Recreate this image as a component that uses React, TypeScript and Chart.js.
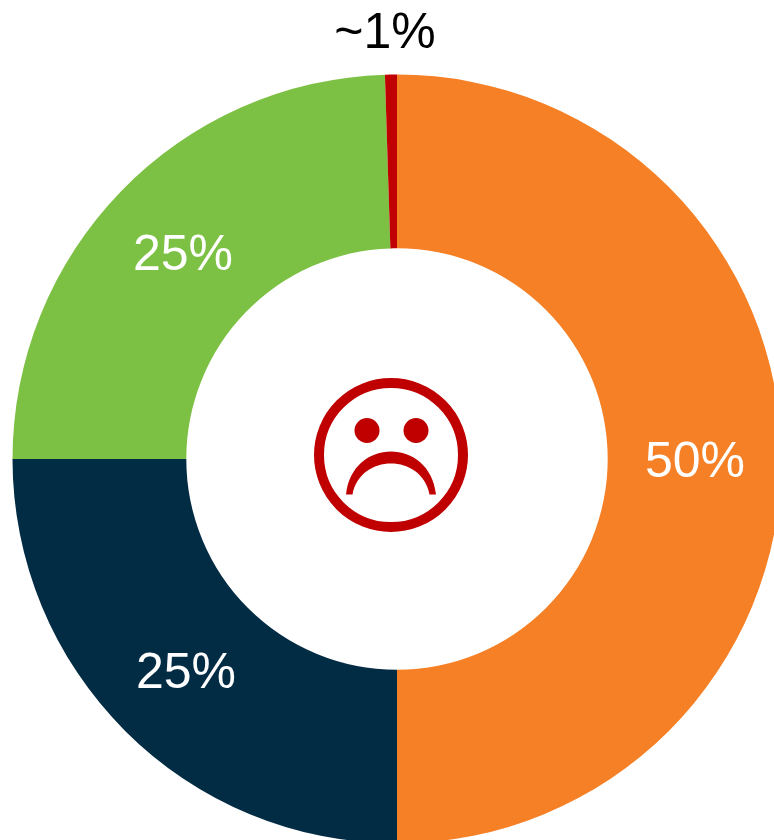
import React, { useEffect, useRef } from "react";
import { Chart, registerables } from "chart.js";

Chart.register(...registerables);

const categories = ["Orange", "Navy", "Green", "Red"];
const seriesValues = [50, 25, 24.5, 0.5];
const pointLabels = ["50%", "25%", "25%", "~1%"];
const sliceColors = ["#F68026", "#022B44", "#7DC144", "#C00000"];
const labelColors = ["#ffffff", "#ffffff", "#ffffff", "#000000"];
const labelAnchors: [number, number][] = [[695, 477], [186, 688], [183, 270], [385, 48]];

const overlay = {
  id: "overlay",
  afterDatasetsDraw(chart: any) {
    const { ctx } = chart;
    ctx.save();
    ctx.font = '50px "Liberation Sans"';
    ctx.textAlign = "center";
    ctx.textBaseline = "alphabetic";
    pointLabels.forEach((t, i) => {
      ctx.fillStyle = labelColors[i];
      ctx.fillText(t, labelAnchors[i][0], labelAnchors[i][1]);
    });
    ctx.strokeStyle = "#C00000";
    ctx.fillStyle = "#C00000";
    ctx.lineWidth = 10;
    ctx.beginPath();
    ctx.arc(391, 455, 72, 0, Math.PI * 2);
    ctx.stroke();
    ctx.beginPath();
    ctx.arc(367, 430.5, 12.5, 0, Math.PI * 2);
    ctx.fill();
    ctx.beginPath();
    ctx.arc(416, 430.5, 12.5, 0, Math.PI * 2);
    ctx.fill();
    ctx.beginPath();
    ctx.moveTo(346, 494.5);
    ctx.bezierCurveTo(352, 437, 430, 437, 436, 494.5);
    ctx.lineTo(429.5, 494.5);
    ctx.bezierCurveTo(422, 453, 360, 453, 352.5, 494.5);
    ctx.closePath();
    ctx.fill();
    ctx.restore();
  },
};

export default function App() {
  const ref = useRef<HTMLCanvasElement>(null);
  useEffect(() => {
    document.body.style.margin = "0";
    const chart = new Chart(ref.current!, {
      type: "doughnut",
      data: {
        labels: categories,
        datasets: [{ data: seriesValues, backgroundColor: sliceColors, borderWidth: 0 }],
      },
      options: {
        animation: false,
        responsive: false,
        cutout: "54.8%",
        layout: { padding: 12.5 },
        plugins: { legend: { display: false }, tooltip: { enabled: false } },
      },
      plugins: [overlay],
    });
    return () => chart.destroy();
  }, []);
  return (
    <div style={{ width: 774, height: 840, overflow: "hidden", position: "relative", background: "#fff" }}>
      <canvas ref={ref} width={794} height={918} style={{ position: "absolute", left: 0, top: 0, width: 794, height: 918 }} />
    </div>
  );
}
